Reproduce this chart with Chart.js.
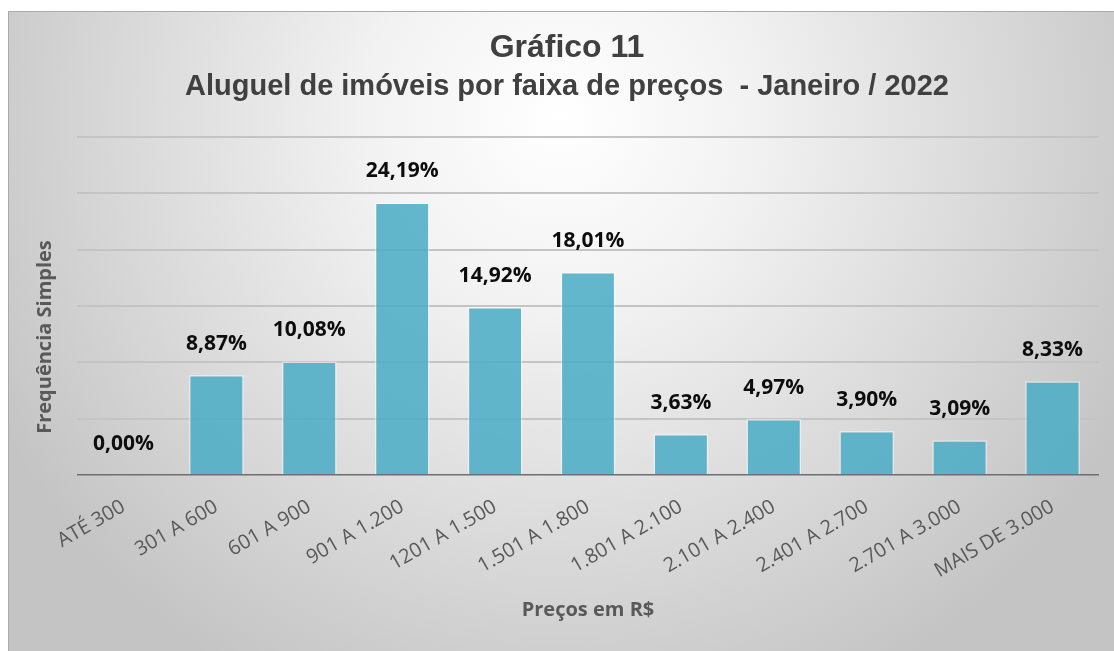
<!DOCTYPE html>
<html lang="pt-BR">
<head>
<meta charset="UTF-8">
<title>Gráfico 11</title>
<script src="https://cdn.jsdelivr.net/npm/chart.js@4.4.1/dist/chart.umd.min.js"></script>
<style>
  html, body { margin: 0; padding: 0; background: #fff; }
  .chart-box { width: 1114px; height: 651px; position: relative; }
</style>
</head>
<body>
<div class="chart-box"><canvas id="grafico"></canvas></div>
<script>
    // dados do gráfico
    var faixas = ['ATÉ 300', '301 A 600', '601 A 900', '901 A 1.200', '1201 A 1.500', '1.501 A 1.800',
        '1.801 A 2.100', '2.101 A 2.400', '2.401 A 2.700', '2.701 A 3.000', 'MAIS DE 3.000'];
    var percentuais = [0.00, 8.87, 10.08, 24.19, 14.92, 18.01, 3.63, 4.97, 3.90, 3.09, 8.33];
    var titulo = 'Gráfico 11';
    var subtitulo = 'Aluguel de imóveis por faixa de preços  - Janeiro / 2022';
    var tituloY = 'Frequência Simples';
    var tituloX = 'Preços em R$';

    function formatar(v) {
        return v.toFixed(2).replace('.', ',') + '%';
    }

    // fundo cinza com degradê radial
    var fundoPlugin = {
        id: 'fundo',
        beforeDraw: function (chart) {
            var ctx = chart.ctx;
            var w = chart.width, h = chart.height;
            ctx.save();
            ctx.fillStyle = '#ffffff';
            ctx.fillRect(0, 0, w, h);
            var g = ctx.createRadialGradient(560, 120, 0, 560, 120, 640);
            g.addColorStop(0, '#ffffff');
            g.addColorStop(0.3, '#f2f2f2');
            g.addColorStop(1, '#c4c4c4');
            ctx.fillStyle = g;
            ctx.fillRect(8, 11, w - 8, h - 11);
            ctx.strokeStyle = '#aaaaaa';
            ctx.lineWidth = 1;
            ctx.strokeRect(8.5, 11.5, w, h);
            ctx.restore();
        }
    };

    // rótulos de percentual acima das barras + título do eixo Y
    var rotulosPlugin = {
        id: 'rotulos',
        afterDatasetsDraw: function (chart) {
            var ctx = chart.ctx;
            var meta = chart.getDatasetMeta(0);
            var area = chart.chartArea;
            ctx.save();
            ctx.font = 'bold 21px "Open Sans"';
            ctx.fillStyle = '#0d0d0d';
            ctx.textAlign = 'center';
            ctx.textBaseline = 'middle';
            meta.data.forEach(function (bar, i) {
                ctx.fillText(formatar(percentuais[i]), bar.x, bar.y - 31);
            });
            // título do eixo Y, centrado na área do gráfico + rótulos (como no Excel)
            ctx.translate(area.left - 32, (area.top + area.bottom) / 2 + 31);
            ctx.rotate(-Math.PI / 2);
            ctx.font = 'bold 20px "Open Sans"';
            ctx.fillStyle = '#595959';
            ctx.fillText(tituloY, 0, 0);
            ctx.restore();
        }
    };

    var ctx = document.getElementById('grafico').getContext('2d');
    var grafico = new Chart(ctx, {
        type: 'bar',
        data: {
            labels: faixas,
            datasets: [{
                label: 'Frequência',
                data: percentuais,
                backgroundColor: 'rgba(75,172,198,0.86)',
                borderColor: 'rgba(255,255,255,0.45)',
                borderWidth: 1.5,
                categoryPercentage: 1,
                barPercentage: 0.59
            }]
        },
        options: {
            responsive: true,
            maintainAspectRatio: false,
            animation: false,
            layout: { padding: { left: 35, right: 15, top: 0, bottom: 0 } },
            plugins: {
                legend: { display: false },
                tooltip: { enabled: false },
                title: {
                    display: true,
                    text: titulo,
                    color: '#404040',
                    font: { family: '"Liberation Sans", Arial', size: 32, weight: 'bold', lineHeight: 1 },
                    padding: { top: 32, bottom: 0 }
                },
                subtitle: {
                    display: true,
                    text: subtitulo,
                    color: '#404040',
                    font: { family: '"Liberation Sans", Arial', size: 29, weight: 'bold', lineHeight: 1 },
                    padding: { top: 8.5, bottom: 35.5 }
                }
            },
            scales: {
                x: {
                    grid: { display: false, drawTicks: false },
                    border: { display: false },
                    ticks: {
                        autoSkip: false,
                        minRotation: 30,
                        maxRotation: 30,
                        padding: 20,
                        color: '#595959',
                        font: { family: '"Open Sans"', size: 20 }
                    },
                    title: {
                        display: true,
                        text: tituloX,
                        color: '#595959',
                        font: { family: '"Open Sans"', size: 20, weight: 'bold', lineHeight: 1 },
                        padding: { top: 0, bottom: 31 }
                    },
                    afterFit: function (scale) { scale.height = 176; }
                },
                y: {
                    min: 0,
                    max: 30,
                    ticks: { display: false, stepSize: 5 },
                    border: { display: false },
                    grid: {
                        drawTicks: false,
                        color: function (c) { return c.tick.value === 0 ? '#6f6f6f' : '#c4c4c4'; },
                        lineWidth: function (c) { return c.tick.value === 0 ? 1.5 : 2; }
                    },
                    title: { display: false },
                    afterFit: function (scale) { scale.width = 42; }
                }
            }
        },
        plugins: [fundoPlugin, rotulosPlugin]
    });
</script>
</body>
</html>
